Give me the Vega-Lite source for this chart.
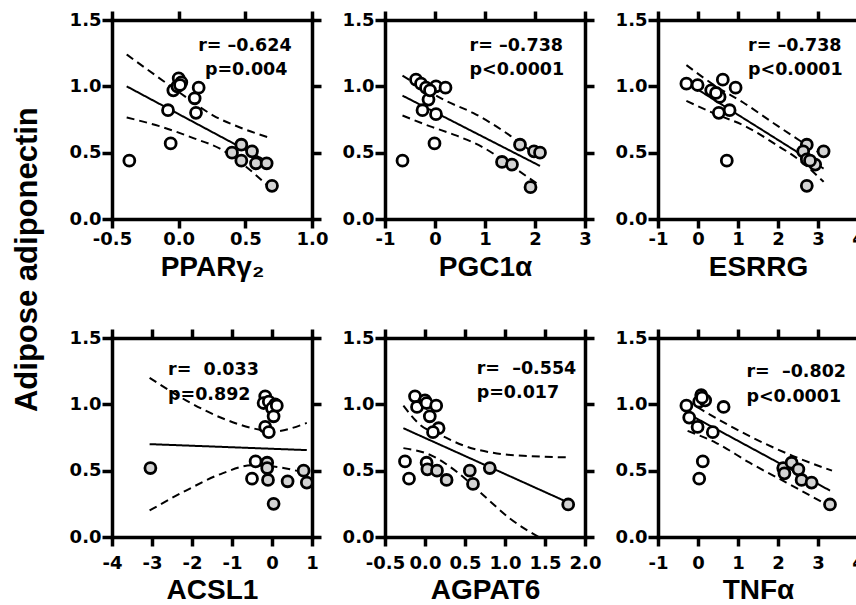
{
"$schema": "https://vega.github.io/schema/vega-lite/v6.json",
"background": "white",
"padding": {"left": 12, "top": 9, "right": 0, "bottom": 0},
"title": {"text": "Adipose adiponectin", "orient": "left", "anchor": "middle", "font": "Liberation Sans", "fontWeight": "bold", "fontSize": 31, "color": "#000", "offset": 25, "dx": 47},
"config": {
 "font": "DejaVu Sans",
 "view": {"stroke": null},
 "axis": {"labelFont": "DejaVu Sans", "labelFontWeight": "bold", "labelFontSize": 18, "labelColor": "#000", "labelExpr": "replace(datum.label, '−', '-')", "titleFont": "Liberation Sans", "titleFontWeight": "bold", "titleFontSize": 28, "titleColor": "#000", "domainColor": "#000", "domainWidth": 3.5, "domainCap": "square", "tickColor": "#000", "tickWidth": 3.5, "tickSize": 9, "grid": false, "labelPadding": 2, "labelOverlap": false, "labelFlush": false, "labelBound": false}
},
"datasets": {
 "pts": [
  {"p":"P1","x":-0.37,"y":0.44,"g":"open"},{"p":"P1","x":-0.06,"y":0.57,"g":"open"},{"p":"P1","x":-0.08,"y":0.82,"g":"open"},{"p":"P1","x":-0.04,"y":0.97,"g":"open"},{"p":"P1","x":0.0,"y":1.06,"g":"open"},{"p":"P1","x":0.02,"y":1.03,"g":"open"},{"p":"P1","x":-0.01,"y":1.0,"g":"open"},{"p":"P1","x":0.12,"y":0.91,"g":"open"},{"p":"P1","x":0.13,"y":0.8,"g":"open"},{"p":"P1","x":0.15,"y":0.99,"g":"open"},{"p":"P1","x":0.01,"y":1.01,"g":"open"},
  {"p":"P1","x":0.4,"y":0.5,"g":"gray"},{"p":"P1","x":0.47,"y":0.56,"g":"gray"},{"p":"P1","x":0.47,"y":0.44,"g":"gray"},{"p":"P1","x":0.55,"y":0.51,"g":"gray"},{"p":"P1","x":0.58,"y":0.42,"g":"gray"},{"p":"P1","x":0.66,"y":0.42,"g":"gray"},{"p":"P1","x":0.7,"y":0.25,"g":"gray"},
  {"p":"P2","x":-0.65,"y":0.44,"g":"open"},{"p":"P2","x":-0.01,"y":0.57,"g":"open"},{"p":"P2","x":-0.25,"y":0.82,"g":"open"},{"p":"P2","x":0.02,"y":0.79,"g":"open"},{"p":"P2","x":-0.13,"y":0.9,"g":"open"},{"p":"P2","x":-0.38,"y":1.05,"g":"open"},{"p":"P2","x":-0.28,"y":1.02,"g":"open"},{"p":"P2","x":-0.18,"y":0.99,"g":"open"},{"p":"P2","x":0.02,"y":1.0,"g":"open"},{"p":"P2","x":0.21,"y":0.99,"g":"open"},{"p":"P2","x":-0.1,"y":0.97,"g":"open"},
  {"p":"P2","x":1.7,"y":0.56,"g":"gray"},{"p":"P2","x":1.34,"y":0.43,"g":"gray"},{"p":"P2","x":1.54,"y":0.41,"g":"gray"},{"p":"P2","x":1.98,"y":0.51,"g":"gray"},{"p":"P2","x":2.1,"y":0.5,"g":"gray"},{"p":"P2","x":1.91,"y":0.24,"g":"gray"},
  {"p":"P3","x":-0.29,"y":1.02,"g":"open"},{"p":"P3","x":-0.01,"y":1.01,"g":"open"},{"p":"P3","x":0.33,"y":0.97,"g":"open"},{"p":"P3","x":0.62,"y":1.05,"g":"open"},{"p":"P3","x":0.94,"y":0.99,"g":"open"},{"p":"P3","x":0.54,"y":0.92,"g":"open"},{"p":"P3","x":0.79,"y":0.82,"g":"open"},{"p":"P3","x":0.52,"y":0.8,"g":"open"},{"p":"P3","x":0.72,"y":0.44,"g":"open"},{"p":"P3","x":0.45,"y":0.95,"g":"open"},
  {"p":"P3","x":2.72,"y":0.56,"g":"gray"},{"p":"P3","x":2.63,"y":0.51,"g":"gray"},{"p":"P3","x":3.14,"y":0.51,"g":"gray"},{"p":"P3","x":2.72,"y":0.45,"g":"gray"},{"p":"P3","x":2.93,"y":0.41,"g":"gray"},{"p":"P3","x":2.8,"y":0.44,"g":"gray"},{"p":"P3","x":2.72,"y":0.25,"g":"gray"},
  {"p":"P4","x":-0.17,"y":1.06,"g":"open"},{"p":"P4","x":-0.21,"y":1.01,"g":"open"},{"p":"P4","x":-0.08,"y":1.02,"g":"open"},{"p":"P4","x":0.08,"y":1.0,"g":"open"},{"p":"P4","x":0.0,"y":0.97,"g":"open"},{"p":"P4","x":0.04,"y":0.91,"g":"open"},{"p":"P4","x":-0.17,"y":0.83,"g":"open"},{"p":"P4","x":-0.08,"y":0.79,"g":"open"},{"p":"P4","x":0.12,"y":0.99,"g":"open"},{"p":"P4","x":-0.41,"y":0.57,"g":"open"},{"p":"P4","x":-0.5,"y":0.44,"g":"open"},
  {"p":"P4","x":-3.04,"y":0.52,"g":"gray"},{"p":"P4","x":-0.12,"y":0.56,"g":"gray"},{"p":"P4","x":-0.12,"y":0.52,"g":"gray"},{"p":"P4","x":-0.1,"y":0.43,"g":"gray"},{"p":"P4","x":0.39,"y":0.42,"g":"gray"},{"p":"P4","x":0.79,"y":0.5,"g":"gray"},{"p":"P4","x":0.87,"y":0.41,"g":"gray"},{"p":"P4","x":0.04,"y":0.25,"g":"gray"},
  {"p":"P5","x":-0.125,"y":1.06,"g":"open"},{"p":"P5","x":-0.1,"y":0.98,"g":"open"},{"p":"P5","x":0.0,"y":1.03,"g":"open"},{"p":"P5","x":0.02,"y":1.01,"g":"open"},{"p":"P5","x":0.14,"y":0.99,"g":"open"},{"p":"P5","x":0.06,"y":0.91,"g":"open"},{"p":"P5","x":0.17,"y":0.82,"g":"open"},{"p":"P5","x":0.1,"y":0.79,"g":"open"},{"p":"P5","x":-0.25,"y":0.57,"g":"open"},{"p":"P5","x":-0.2,"y":0.44,"g":"open"},{"p":"P5","x":0.02,"y":0.56,"g":"open"},
  {"p":"P5","x":0.03,"y":0.51,"g":"gray"},{"p":"P5","x":0.15,"y":0.5,"g":"gray"},{"p":"P5","x":0.27,"y":0.43,"g":"gray"},{"p":"P5","x":0.56,"y":0.5,"g":"gray"},{"p":"P5","x":0.6,"y":0.4,"g":"gray"},{"p":"P5","x":0.81,"y":0.52,"g":"gray"},{"p":"P5","x":1.79,"y":0.245,"g":"gray"},
  {"p":"P6","x":-0.29,"y":0.99,"g":"open"},{"p":"P6","x":-0.22,"y":0.9,"g":"open"},{"p":"P6","x":-0.01,"y":0.83,"g":"open"},{"p":"P6","x":0.08,"y":1.07,"g":"open"},{"p":"P6","x":0.03,"y":1.02,"g":"open"},{"p":"P6","x":0.18,"y":1.03,"g":"open"},{"p":"P6","x":0.37,"y":0.79,"g":"open"},{"p":"P6","x":0.64,"y":0.98,"g":"open"},{"p":"P6","x":0.12,"y":0.57,"g":"open"},{"p":"P6","x":0.03,"y":0.44,"g":"open"},{"p":"P6","x":0.1,"y":1.05,"g":"open"},
  {"p":"P6","x":2.13,"y":0.52,"g":"gray"},{"p":"P6","x":2.34,"y":0.56,"g":"gray"},{"p":"P6","x":2.51,"y":0.51,"g":"gray"},{"p":"P6","x":2.59,"y":0.43,"g":"gray"},{"p":"P6","x":2.84,"y":0.41,"g":"gray"},{"p":"P6","x":3.3,"y":0.245,"g":"gray"},{"p":"P6","x":2.16,"y":0.48,"g":"gray"}
 ],
 "lines": [
  {"p":"P1","k":"fit","x":-0.39,"y":1.0},{"p":"P1","k":"fit","x":0.69,"y":0.42},
  {"p":"P1","k":"upper","x":-0.39,"y":1.24},{"p":"P1","k":"upper","x":-0.17,"y":1.08},{"p":"P1","k":"upper","x":0.06,"y":0.915},{"p":"P1","k":"upper","x":0.26,"y":0.78},{"p":"P1","k":"upper","x":0.46,"y":0.69},{"p":"P1","k":"upper","x":0.69,"y":0.61},
  {"p":"P1","k":"lower","x":-0.39,"y":0.765},{"p":"P1","k":"lower","x":-0.145,"y":0.7},{"p":"P1","k":"lower","x":0.11,"y":0.61},{"p":"P1","k":"lower","x":0.31,"y":0.53},{"p":"P1","k":"lower","x":0.51,"y":0.39},{"p":"P1","k":"lower","x":0.69,"y":0.23},
  {"p":"P2","k":"fit","x":-0.65,"y":0.93},{"p":"P2","k":"fit","x":2.1,"y":0.4},
  {"p":"P2","k":"upper","x":-0.65,"y":1.08},{"p":"P2","k":"upper","x":-0.25,"y":0.99},{"p":"P2","k":"upper","x":0.22,"y":0.89},{"p":"P2","k":"upper","x":0.76,"y":0.8},{"p":"P2","k":"upper","x":1.36,"y":0.665},{"p":"P2","k":"upper","x":2.06,"y":0.47},
  {"p":"P2","k":"lower","x":-0.65,"y":0.78},{"p":"P2","k":"lower","x":-0.11,"y":0.7},{"p":"P2","k":"lower","x":0.42,"y":0.63},{"p":"P2","k":"lower","x":0.96,"y":0.54},{"p":"P2","k":"lower","x":1.49,"y":0.41},{"p":"P2","k":"lower","x":2.03,"y":0.27},
  {"p":"P3","k":"fit","x":-0.29,"y":1.03},{"p":"P3","k":"fit","x":3.14,"y":0.38},
  {"p":"P3","k":"upper","x":-0.29,"y":1.16},{"p":"P3","k":"upper","x":0.5,"y":0.99},{"p":"P3","k":"upper","x":1.12,"y":0.88},{"p":"P3","k":"upper","x":1.9,"y":0.72},{"p":"P3","k":"upper","x":2.55,"y":0.59},{"p":"P3","k":"upper","x":3.14,"y":0.48},
  {"p":"P3","k":"lower","x":-0.29,"y":0.89},{"p":"P3","k":"lower","x":0.37,"y":0.8},{"p":"P3","k":"lower","x":1.21,"y":0.695},{"p":"P3","k":"lower","x":1.9,"y":0.57},{"p":"P3","k":"lower","x":2.55,"y":0.44},{"p":"P3","k":"lower","x":3.14,"y":0.28},
  {"p":"P4","k":"fit","x":-3.06,"y":0.7},{"p":"P4","k":"fit","x":0.87,"y":0.655},
  {"p":"P4","k":"upper","x":-3.06,"y":1.2},{"p":"P4","k":"upper","x":-2.15,"y":1.03},{"p":"P4","k":"upper","x":-1.24,"y":0.895},{"p":"P4","k":"upper","x":-0.33,"y":0.81},{"p":"P4","k":"upper","x":0.0,"y":0.795},{"p":"P4","k":"upper","x":0.87,"y":0.86},
  {"p":"P4","k":"lower","x":-3.06,"y":0.2},{"p":"P4","k":"lower","x":-2.15,"y":0.35},{"p":"P4","k":"lower","x":-1.24,"y":0.48},{"p":"P4","k":"lower","x":-0.5,"y":0.54},{"p":"P4","k":"lower","x":0.08,"y":0.53},{"p":"P4","k":"lower","x":0.87,"y":0.48},
  {"p":"P5","k":"fit","x":-0.27,"y":0.82},{"p":"P5","k":"fit","x":1.79,"y":0.26},
  {"p":"P5","k":"upper","x":-0.27,"y":0.99},{"p":"P5","k":"upper","x":-0.06,"y":0.845},{"p":"P5","k":"upper","x":0.19,"y":0.77},{"p":"P5","k":"upper","x":0.48,"y":0.69},{"p":"P5","k":"upper","x":0.9,"y":0.63},{"p":"P5","k":"upper","x":1.31,"y":0.61},{"p":"P5","k":"upper","x":1.79,"y":0.6},
  {"p":"P5","k":"lower","x":-0.27,"y":0.67},{"p":"P5","k":"lower","x":0.06,"y":0.62},{"p":"P5","k":"lower","x":0.4,"y":0.49},{"p":"P5","k":"lower","x":0.73,"y":0.315},{"p":"P5","k":"lower","x":1.06,"y":0.14},{"p":"P5","k":"lower","x":1.42,"y":0.0},
  {"p":"P6","k":"fit","x":-0.26,"y":0.93},{"p":"P6","k":"fit","x":3.3,"y":0.35},
  {"p":"P6","k":"upper","x":-0.29,"y":1.03},{"p":"P6","k":"upper","x":0.2,"y":0.94},{"p":"P6","k":"upper","x":1.29,"y":0.76},{"p":"P6","k":"upper","x":2.38,"y":0.61},{"p":"P6","k":"upper","x":3.35,"y":0.5},
  {"p":"P6","k":"lower","x":-0.26,"y":0.8},{"p":"P6","k":"lower","x":0.45,"y":0.71},{"p":"P6","k":"lower","x":1.29,"y":0.56},{"p":"P6","k":"lower","x":2.21,"y":0.41},{"p":"P6","k":"lower","x":3.3,"y":0.23}
 ],
 "stats": [
  {"p":"P1","x":0.146,"y":1.267,"t":"r= –0.624"},{"p":"P1","x":0.197,"y":1.086,"t":"p=0.004"},
  {"p":"P2","x":0.69,"y":1.267,"t":"r= –0.738"},{"p":"P2","x":0.69,"y":1.086,"t":"p<0.0001"},
  {"p":"P3","x":1.25,"y":1.267,"t":"r= –0.738"},{"p":"P3","x":1.25,"y":1.086,"t":"p<0.0001"},
  {"p":"P4","x":-2.6,"y":1.223,"t":"r= \u00a00.033"},{"p":"P4","x":-2.6,"y":1.034,"t":"p=0.892"},
  {"p":"P5","x":0.646,"y":1.228,"t":"r= \u00a0–0.554"},{"p":"P5","x":0.646,"y":1.046,"t":"p=0.017"},
  {"p":"P6","x":1.21,"y":1.205,"t":"r= \u00a0–0.802"},{"p":"P6","x":1.21,"y":1.015,"t":"p<0.0001"}
 ]
},
"columns": 3,
"spacing": {"row": 119, "column": 73},
"bounds": "flush",
"concat": [
 {"width": 200, "height": 199, "resolve": {"axis": {"x": "independent", "y": "independent"}},
  "layer": [
   {"data": {"name": "lines"}, "transform": [{"filter": "datum.p === 'P1'"}],
    "mark": {"type": "line", "color": "#000", "strokeWidth": 2, "interpolate": "monotone"},
    "encoding": {
     "x": {"field": "x", "type": "quantitative", "scale": {"domain": [-0.5, 1], "nice": false, "zero": false}, "axis": {"orient": "top", "values": [-0.5, 0, 0.5, 1], "labels": false, "title": null}},
     "y": {"field": "y", "type": "quantitative", "scale": {"domain": [0, 1.5], "nice": false, "zero": false}, "axis": {"orient": "right", "values": [0, 0.5, 1, 1.5], "labels": false, "title": null}},
     "strokeDash": {"field": "k", "type": "nominal", "scale": {"domain": ["fit", "upper", "lower"], "range": [[1, 0], [8, 5], [8, 5]]}, "legend": null}}},
   {"data": {"name": "pts"}, "transform": [{"filter": "datum.p === 'P1'"}],
    "mark": {"type": "point", "shape": "circle", "filled": true, "size": 120, "stroke": "#000", "strokeWidth": 2.8, "opacity": 1},
    "encoding": {
     "x": {"field": "x", "type": "quantitative", "scale": {"domain": [-0.5, 1], "nice": false, "zero": false}, "axis": {"orient": "bottom", "values": [-0.5, 0, 0.5, 1], "format": ".1f", "title": "PPARγ₂", "labelPadding": 2, "titlePadding": 5}},
     "y": {"field": "y", "type": "quantitative", "scale": {"domain": [0, 1.5], "nice": false, "zero": false}, "axis": {"orient": "left", "values": [0, 0.5, 1, 1.5], "format": ".1f", "title": null, "tickSize": 10, "labelPadding": 1}},
     "fill": {"field": "g", "type": "nominal", "scale": {"domain": ["open", "gray"], "range": ["#ffffff", "#d3d3d3"]}, "legend": null}}},
   {"data": {"name": "stats"}, "transform": [{"filter": "datum.p === 'P1'"}],
    "mark": {"type": "text", "align": "left", "baseline": "alphabetic", "font": "DejaVu Sans", "fontWeight": "bold", "fontSize": 17.5, "color": "#000"},
    "encoding": {"x": {"field": "x", "type": "quantitative", "axis": null}, "y": {"field": "y", "type": "quantitative", "axis": null}, "text": {"field": "t"}}}
  ]},
 {"width": 200, "height": 199, "resolve": {"axis": {"x": "independent", "y": "independent"}},
  "layer": [
   {"data": {"name": "lines"}, "transform": [{"filter": "datum.p === 'P2'"}],
    "mark": {"type": "line", "color": "#000", "strokeWidth": 2, "interpolate": "monotone"},
    "encoding": {
     "x": {"field": "x", "type": "quantitative", "scale": {"domain": [-1, 3], "nice": false, "zero": false}, "axis": {"orient": "top", "values": [-1, 0, 1, 2, 3], "labels": false, "title": null}},
     "y": {"field": "y", "type": "quantitative", "scale": {"domain": [0, 1.5], "nice": false, "zero": false}, "axis": {"orient": "right", "values": [0, 0.5, 1, 1.5], "labels": false, "title": null}},
     "strokeDash": {"field": "k", "type": "nominal", "scale": {"domain": ["fit", "upper", "lower"], "range": [[1, 0], [8, 5], [8, 5]]}, "legend": null}}},
   {"data": {"name": "pts"}, "transform": [{"filter": "datum.p === 'P2'"}],
    "mark": {"type": "point", "shape": "circle", "filled": true, "size": 120, "stroke": "#000", "strokeWidth": 2.8, "opacity": 1},
    "encoding": {
     "x": {"field": "x", "type": "quantitative", "scale": {"domain": [-1, 3], "nice": false, "zero": false}, "axis": {"orient": "bottom", "values": [-1, 0, 1, 2, 3], "format": "d", "title": "PGC1α", "labelPadding": 2, "titlePadding": 5}},
     "y": {"field": "y", "type": "quantitative", "scale": {"domain": [0, 1.5], "nice": false, "zero": false}, "axis": {"orient": "left", "values": [0, 0.5, 1, 1.5], "format": ".1f", "title": null, "tickSize": 10, "labelPadding": 1}},
     "fill": {"field": "g", "type": "nominal", "scale": {"domain": ["open", "gray"], "range": ["#ffffff", "#d3d3d3"]}, "legend": null}}},
   {"data": {"name": "stats"}, "transform": [{"filter": "datum.p === 'P2'"}],
    "mark": {"type": "text", "align": "left", "baseline": "alphabetic", "font": "DejaVu Sans", "fontWeight": "bold", "fontSize": 17.5, "color": "#000"},
    "encoding": {"x": {"field": "x", "type": "quantitative", "axis": null}, "y": {"field": "y", "type": "quantitative", "axis": null}, "text": {"field": "t"}}}
  ]},
 {"width": 200, "height": 199, "resolve": {"axis": {"x": "independent", "y": "independent"}},
  "layer": [
   {"data": {"name": "lines"}, "transform": [{"filter": "datum.p === 'P3'"}],
    "mark": {"type": "line", "color": "#000", "strokeWidth": 2, "interpolate": "monotone"},
    "encoding": {
     "x": {"field": "x", "type": "quantitative", "scale": {"domain": [-1, 4], "nice": false, "zero": false}, "axis": {"orient": "top", "values": [-1, 0, 1, 2, 3, 4], "labels": false, "title": null}},
     "y": {"field": "y", "type": "quantitative", "scale": {"domain": [0, 1.5], "nice": false, "zero": false}, "axis": {"orient": "right", "values": [0, 0.5, 1, 1.5], "labels": false, "title": null}},
     "strokeDash": {"field": "k", "type": "nominal", "scale": {"domain": ["fit", "upper", "lower"], "range": [[1, 0], [8, 5], [8, 5]]}, "legend": null}}},
   {"data": {"name": "pts"}, "transform": [{"filter": "datum.p === 'P3'"}],
    "mark": {"type": "point", "shape": "circle", "filled": true, "size": 120, "stroke": "#000", "strokeWidth": 2.8, "opacity": 1},
    "encoding": {
     "x": {"field": "x", "type": "quantitative", "scale": {"domain": [-1, 4], "nice": false, "zero": false}, "axis": {"orient": "bottom", "values": [-1, 0, 1, 2, 3, 4], "format": "d", "title": "ESRRG", "labelPadding": 2, "titlePadding": 5}},
     "y": {"field": "y", "type": "quantitative", "scale": {"domain": [0, 1.5], "nice": false, "zero": false}, "axis": {"orient": "left", "values": [0, 0.5, 1, 1.5], "format": ".1f", "title": null, "tickSize": 10, "labelPadding": 1}},
     "fill": {"field": "g", "type": "nominal", "scale": {"domain": ["open", "gray"], "range": ["#ffffff", "#d3d3d3"]}, "legend": null}}},
   {"data": {"name": "stats"}, "transform": [{"filter": "datum.p === 'P3'"}],
    "mark": {"type": "text", "align": "left", "baseline": "alphabetic", "font": "DejaVu Sans", "fontWeight": "bold", "fontSize": 17.5, "color": "#000"},
    "encoding": {"x": {"field": "x", "type": "quantitative", "axis": null}, "y": {"field": "y", "type": "quantitative", "axis": null}, "text": {"field": "t"}}}
  ]},
 {"width": 200, "height": 199, "resolve": {"axis": {"x": "independent", "y": "independent"}},
  "layer": [
   {"data": {"name": "lines"}, "transform": [{"filter": "datum.p === 'P4'"}],
    "mark": {"type": "line", "color": "#000", "strokeWidth": 2, "interpolate": "monotone"},
    "encoding": {
     "x": {"field": "x", "type": "quantitative", "scale": {"domain": [-4, 1], "nice": false, "zero": false}, "axis": {"orient": "top", "values": [-4, -3, -2, -1, 0, 1], "labels": false, "title": null}},
     "y": {"field": "y", "type": "quantitative", "scale": {"domain": [0, 1.5], "nice": false, "zero": false}, "axis": {"orient": "right", "values": [0, 0.5, 1, 1.5], "labels": false, "title": null}},
     "strokeDash": {"field": "k", "type": "nominal", "scale": {"domain": ["fit", "upper", "lower"], "range": [[1, 0], [8, 5], [8, 5]]}, "legend": null}}},
   {"data": {"name": "pts"}, "transform": [{"filter": "datum.p === 'P4'"}],
    "mark": {"type": "point", "shape": "circle", "filled": true, "size": 120, "stroke": "#000", "strokeWidth": 2.8, "opacity": 1},
    "encoding": {
     "x": {"field": "x", "type": "quantitative", "scale": {"domain": [-4, 1], "nice": false, "zero": false}, "axis": {"orient": "bottom", "values": [-4, -3, -2, -1, 0, 1], "format": "d", "title": "ACSL1", "labelPadding": 8, "titlePadding": 4}},
     "y": {"field": "y", "type": "quantitative", "scale": {"domain": [0, 1.5], "nice": false, "zero": false}, "axis": {"orient": "left", "values": [0, 0.5, 1, 1.5], "format": ".1f", "title": null, "tickSize": 10, "labelPadding": 1}},
     "fill": {"field": "g", "type": "nominal", "scale": {"domain": ["open", "gray"], "range": ["#ffffff", "#d3d3d3"]}, "legend": null}}},
   {"data": {"name": "stats"}, "transform": [{"filter": "datum.p === 'P4'"}],
    "mark": {"type": "text", "align": "left", "baseline": "alphabetic", "font": "DejaVu Sans", "fontWeight": "bold", "fontSize": 17.5, "color": "#000"},
    "encoding": {"x": {"field": "x", "type": "quantitative", "axis": null}, "y": {"field": "y", "type": "quantitative", "axis": null}, "text": {"field": "t"}}}
  ]},
 {"width": 200, "height": 199, "resolve": {"axis": {"x": "independent", "y": "independent"}},
  "layer": [
   {"data": {"name": "lines"}, "transform": [{"filter": "datum.p === 'P5'"}],
    "mark": {"type": "line", "color": "#000", "strokeWidth": 2, "interpolate": "monotone"},
    "encoding": {
     "x": {"field": "x", "type": "quantitative", "scale": {"domain": [-0.5, 2], "nice": false, "zero": false}, "axis": {"orient": "top", "values": [-0.5, 0, 0.5, 1, 1.5, 2], "labels": false, "title": null}},
     "y": {"field": "y", "type": "quantitative", "scale": {"domain": [0, 1.5], "nice": false, "zero": false}, "axis": {"orient": "right", "values": [0, 0.5, 1, 1.5], "labels": false, "title": null}},
     "strokeDash": {"field": "k", "type": "nominal", "scale": {"domain": ["fit", "upper", "lower"], "range": [[1, 0], [8, 5], [8, 5]]}, "legend": null}}},
   {"data": {"name": "pts"}, "transform": [{"filter": "datum.p === 'P5'"}],
    "mark": {"type": "point", "shape": "circle", "filled": true, "size": 120, "stroke": "#000", "strokeWidth": 2.8, "opacity": 1},
    "encoding": {
     "x": {"field": "x", "type": "quantitative", "scale": {"domain": [-0.5, 2], "nice": false, "zero": false}, "axis": {"orient": "bottom", "values": [-0.5, 0, 0.5, 1, 1.5, 2], "format": ".1f", "title": "AGPAT6", "labelPadding": 8, "titlePadding": 4}},
     "y": {"field": "y", "type": "quantitative", "scale": {"domain": [0, 1.5], "nice": false, "zero": false}, "axis": {"orient": "left", "values": [0, 0.5, 1, 1.5], "format": ".1f", "title": null, "tickSize": 10, "labelPadding": 1}},
     "fill": {"field": "g", "type": "nominal", "scale": {"domain": ["open", "gray"], "range": ["#ffffff", "#d3d3d3"]}, "legend": null}}},
   {"data": {"name": "stats"}, "transform": [{"filter": "datum.p === 'P5'"}],
    "mark": {"type": "text", "align": "left", "baseline": "alphabetic", "font": "DejaVu Sans", "fontWeight": "bold", "fontSize": 17.5, "color": "#000"},
    "encoding": {"x": {"field": "x", "type": "quantitative", "axis": null}, "y": {"field": "y", "type": "quantitative", "axis": null}, "text": {"field": "t"}}}
  ]},
 {"width": 200, "height": 199, "resolve": {"axis": {"x": "independent", "y": "independent"}},
  "layer": [
   {"data": {"name": "lines"}, "transform": [{"filter": "datum.p === 'P6'"}],
    "mark": {"type": "line", "color": "#000", "strokeWidth": 2, "interpolate": "monotone"},
    "encoding": {
     "x": {"field": "x", "type": "quantitative", "scale": {"domain": [-1, 4], "nice": false, "zero": false}, "axis": {"orient": "top", "values": [-1, 0, 1, 2, 3, 4], "labels": false, "title": null}},
     "y": {"field": "y", "type": "quantitative", "scale": {"domain": [0, 1.5], "nice": false, "zero": false}, "axis": {"orient": "right", "values": [0, 0.5, 1, 1.5], "labels": false, "title": null}},
     "strokeDash": {"field": "k", "type": "nominal", "scale": {"domain": ["fit", "upper", "lower"], "range": [[1, 0], [8, 5], [8, 5]]}, "legend": null}}},
   {"data": {"name": "pts"}, "transform": [{"filter": "datum.p === 'P6'"}],
    "mark": {"type": "point", "shape": "circle", "filled": true, "size": 120, "stroke": "#000", "strokeWidth": 2.8, "opacity": 1},
    "encoding": {
     "x": {"field": "x", "type": "quantitative", "scale": {"domain": [-1, 4], "nice": false, "zero": false}, "axis": {"orient": "bottom", "values": [-1, 0, 1, 2, 3, 4], "format": "d", "title": "TNFα", "labelPadding": 8, "titlePadding": 4}},
     "y": {"field": "y", "type": "quantitative", "scale": {"domain": [0, 1.5], "nice": false, "zero": false}, "axis": {"orient": "left", "values": [0, 0.5, 1, 1.5], "format": ".1f", "title": null, "tickSize": 10, "labelPadding": 1}},
     "fill": {"field": "g", "type": "nominal", "scale": {"domain": ["open", "gray"], "range": ["#ffffff", "#d3d3d3"]}, "legend": null}}},
   {"data": {"name": "stats"}, "transform": [{"filter": "datum.p === 'P6'"}],
    "mark": {"type": "text", "align": "left", "baseline": "alphabetic", "font": "DejaVu Sans", "fontWeight": "bold", "fontSize": 17.5, "color": "#000"},
    "encoding": {"x": {"field": "x", "type": "quantitative", "axis": null}, "y": {"field": "y", "type": "quantitative", "axis": null}, "text": {"field": "t"}}}
  ]}
]
}
